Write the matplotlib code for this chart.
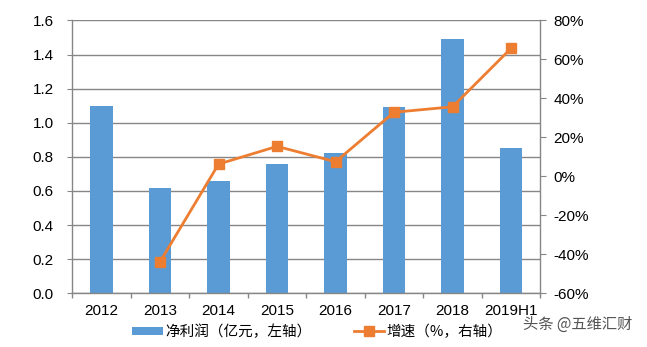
#!/usr/bin/env python3
"""Net profit bars with growth-rate line on a secondary axis."""

import numpy as np
import matplotlib
matplotlib.use("Agg")
import matplotlib.pyplot as plt
from matplotlib.patches import Patch
from matplotlib.lines import Line2D
from matplotlib.ticker import FixedLocator

plt.rcParams["font.family"] = ["Liberation Sans", "Noto Sans CJK SC", "DejaVu Sans"]

years = ["2012", "2013", "2014", "2015", "2016", "2017", "2018", "2019H1"]
net_profit = [1.10, 0.62, 0.66, 0.76, 0.82, 1.09, 1.49, 0.85]
growth = [None, -43.8, 6.3, 15.4, 7.5, 32.9, 35.7, 65.7]

blue = "#5B9BD5"
orange = "#ED7D31"
gray = "#868686"

fig = plt.figure(figsize=(6.47, 3.47), dpi=100)
ax = fig.add_axes([0.1118, 0.1548, 0.7233, 0.7862])
ax2 = ax.twinx()

x = np.arange(len(years))
ax.bar(x, net_profit, width=0.39, color=blue, zorder=2)

gx = [i for i, g in enumerate(growth) if g is not None]
gy = [g for g in growth if g is not None]
ax2.plot(gx, gy, color=orange, lw=2, marker="s", ms=7, zorder=3)

ax.set_xlim(-0.5, len(years) - 0.5)
ax.set_ylim(0, 1.6)
ax.set_yticks(np.arange(0, 1.61, 0.2))
ax.set_yticklabels([f"{v:.1f}" for v in np.arange(0, 1.61, 0.2)])
ax.grid(axis="y", color=gray, lw=1)
ax.set_axisbelow(True)

ax.set_xticks(x)
ax.set_xticklabels(years)
ax.xaxis.set_minor_locator(FixedLocator(np.arange(-0.5, len(years), 1.0)))
ax.tick_params(axis="x", which="major", length=0, pad=8, labelsize=11)
ax.tick_params(axis="x", which="minor", length=3.5, color=gray, width=1)
ax.tick_params(axis="y", length=3.5, color=gray, labelsize=11, pad=10)

ax2.set_ylim(-60, 80)
ax2.set_yticks(np.arange(-60, 81, 20))
ax2.set_yticklabels([f"{v}%" for v in range(-60, 81, 20)])
ax2.tick_params(axis="y", length=4, color=gray, labelsize=11, pad=5.5)

for a in (ax, ax2):
    a.spines["top"].set_visible(False)
    for side in ("left", "right", "bottom"):
        a.spines[side].set_color(gray)
        a.spines[side].set_linewidth(1)
ax.spines["right"].set_visible(False)
ax2.spines["left"].set_visible(False)
ax2.spines["bottom"].set_visible(False)

handles = [
    Patch(facecolor=blue, edgecolor="none"),
    Line2D([], [], color=orange, lw=2, marker="s", ms=7),
]
labels = ["净利润（亿元，左轴）", "增速（%，右轴）"]
fig.legend(handles, labels, loc="lower left", bbox_to_anchor=(0.184, -0.015),
           ncol=2, frameon=False, handlelength=2.1,
           handleheight=0.5, handletextpad=0.15, columnspacing=2.9,
           prop={"family": ["Noto Sans CJK SC"], "size": 10.5})

fig.text(0.978, 0.04, "头条 @五维汇财", ha="right", va="bottom",
         color="#555555", fontsize=11, family=["Noto Sans CJK SC"])

fig.savefig("out.png", dpi=100)
